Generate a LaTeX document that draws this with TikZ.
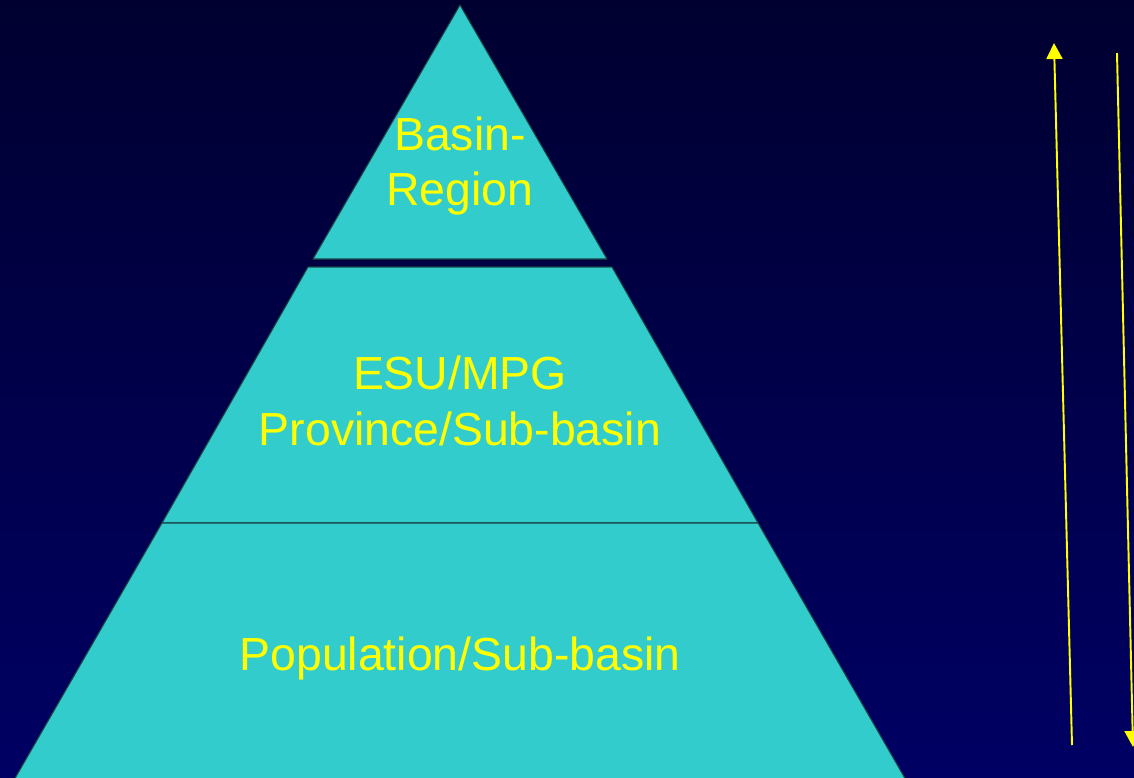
\documentclass[tikz,border=0pt]{standalone}
\usepackage{fontspec}
\setmainfont{Liberation Sans}
\usepackage{tikz}
\usetikzlibrary{positioning, arrows.meta, calc}
\definecolor{pyrteal}{RGB}{51,204,204}
\definecolor{pyredge}{RGB}{25,70,70}
\definecolor{navytop}{RGB}{0,0,48}
\definecolor{navybot}{RGB}{0,0,100}
\definecolor{lblyellow}{RGB}{255,255,0}
\tikzset{>={Triangle[length=0.32cm, width=0.32cm]}}
\tikzset{level/.style={fill=pyrteal, draw=pyredge, line width=0.6pt, line join=round}}
\tikzset{lbl/.style={text=lblyellow, align=center, inner sep=0pt, font=\fontsize{26.4}{31.8}\selectfont}}
\tikzset{scalearrow/.style={->, draw=lblyellow, fill=lblyellow, line width=1.1pt}}

\begin{document}
\begin{tikzpicture}[x=0.02cm, y=-0.02cm]
    \useasboundingbox (0,0) rectangle (1134,778);
    \shade[top color=navytop, bottom color=navybot] (0,0) rectangle (1134,778);
    \clip (0,0) rectangle (1134,778);

    % pyramid levels
    \filldraw[level] (460,5) -- (313,259) -- (607,259) -- cycle;
    \filldraw[level] (308,267) -- (612,267) -- (758,523) -- (162,523) -- cycle;
    \filldraw[level] (162,523) -- (758,523) -- (910,787) -- (10,787) -- cycle;

    \node[lbl] (basin) at (460,166) {Basin-\\Region};
    \node[lbl] (esu) at (460,401) {ESU/MPG\\Province/Sub-basin};
    \node[lbl] (population) at (460,659) {Population/Sub-basin};

    % scale arrows
    \coordinate (upfoot) at (1072,745);
    \coordinate (uptip) at (1054,43);
    \coordinate (downfoot) at (1117,53);
    \coordinate (downtip) at (1133,747);
    \draw[scalearrow] (upfoot) -- (uptip);
    \draw[scalearrow] (downfoot) -- (downtip);
\end{tikzpicture}
\end{document}
